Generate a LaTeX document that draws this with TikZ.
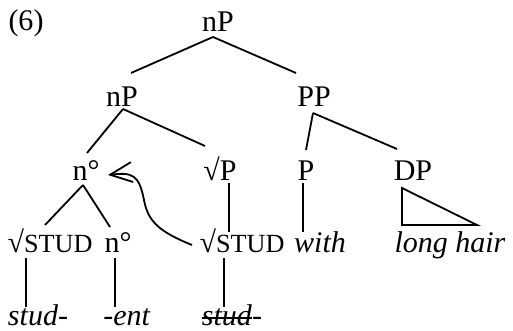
\documentclass[tikz,border=0pt]{standalone}
\usepackage{fontspec}
\setmainfont{Liberation Serif}
\usetikzlibrary{arrows.meta}
\newcommand\smcap[1]{{\fontsize{13.1pt}{14pt}\selectfont #1}}

\begin{document}
\begin{tikzpicture}[x=0.5pt, y=-0.5pt]
	\tikzset{mot/.style={inner sep=0pt, anchor=base, font=\fontsize{15pt}{17pt}\selectfont},
	branche/.style={line width=0.9pt},
	mouvement/.style={line width=0.9pt, -{Straight Barb[length=11pt, width=10pt]}}};
	\useasboundingbox (0,0) rectangle (513,331);

	\node[mot] (ex) at (26,31) {(6)};
	\foreach \name/\x/\y/\txt in {np0/218/32/nP, np1/122/107/nP, pp/314/107/PP, nhead/86/181/n°, sqp/220/181/√P, p/306/181/P, dp/413/181/DP}{
		\node[mot] (\name) at (\x,\y) {\txt};
	}
	\foreach \name/\x/\txt in {root1/50/{√\smcap{STUD}}, nbase/118/n°, root2/242/{√\smcap{STUD}}, with/320/\textit{with}, hair/450/\textit{long hair}}{
		\node[mot] (\name) at (\x,252) {\txt};
	}
	\foreach \name/\x/\txt in {stud/38/\textit{stud-}, ent/127/\textit{-ent}, trace/227/{\textit{stud}\rlap{\textit{-}}}}{
		\node[mot] (\name) at (\x,325) {\txt};
	}

	% branches
	\foreach \a/\ax/\ay/\b/\bx/\by in {np0/-5/5/np1/9/-34, np0/-5/5/pp/-18/-34, np1/1/2/nhead/1/-28, np1/1/2/sqp/-15/-35, pp/-1/6/p/0/-31, pp/-1/6/dp/-16/-32, nhead/-3/4/root1/-5/-27, nhead/-3/4/nbase/-8/-25, sqp/9/2/root2/-13/-20, p/-3/2/with/-17/-20, root1/-24/6/stud/-12/-18, nbase/-3/6/ent/-12/-18, root2/-18/6/trace/-3/-18}{
		\draw[branche] ([shift={(\ax,\ay)}]\a.base) -- ([shift={(\bx,\by)}]\b.base);
	}
	\draw[branche] ([shift={(-11,7)}]dp.base) -- ([shift={(-48,-27)}]hair.base) -- ([shift={(27,-27)}]hair.base) -- cycle;

	% trace barree et mouvement
	\draw[branche] ([yshift=3.5pt]trace.base west) -- ([yshift=3.5pt]trace.base east);
	\draw[mouvement] ([shift={(-50,-7)}]root2.base) .. controls +(-32,-13) and +(4,22) .. ([shift={(-98,-52)}]root2.base) .. controls +(-5,-25) and +(25,-3) .. ([shift={(22,-6)}]nhead.base);

\end{tikzpicture}
\end{document}
